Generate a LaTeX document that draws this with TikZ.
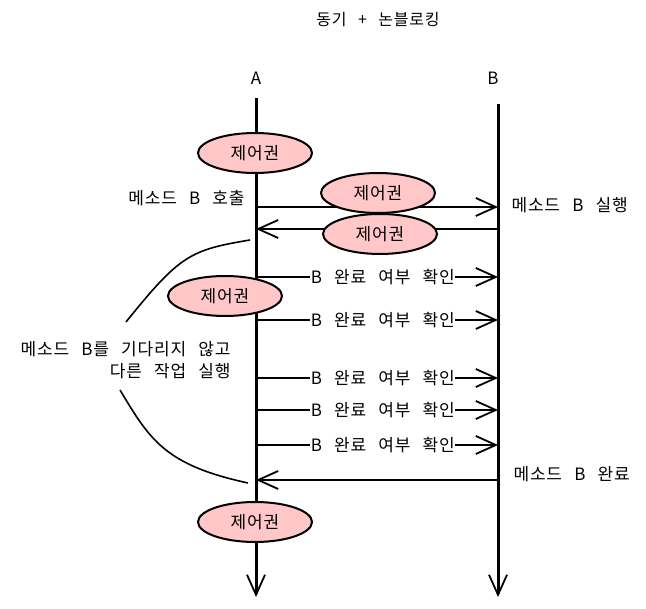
\documentclass[tikz,border=0pt]{standalone}
\usepackage{fontspec}
\setmainfont[LetterSpace=5, WordSpace=2.6]{Noto Sans CJK KR}
\usetikzlibrary{arrows.meta,positioning,shapes.geometric}

\begin{document}
\begin{tikzpicture}[
    x=1pt, y=-1pt,
    >={Straight Barb[length=20pt,width=18pt,line width=1.8pt]},
    font=\fontsize{17}{22}\selectfont,
    ctrl/.style={ellipse, draw=black, line width=2pt, fill=red!22,
                 minimum width=114pt, minimum height=40pt, inner sep=0pt},
    life/.style={->, line width=3pt},
    msg/.style={->, line width=2pt},
    lbl/.style={fill=white, inner sep=0.5pt},
    note/.style={line width=1.6pt}
  ]
    \useasboundingbox (0,0) rectangle (646,609);

    \node[font=\fontsize{16}{20}\selectfont] (title) at (378,20) {동기 + 논블로킹};
    \node (la) at (256,78) {A};
    \node (lb) at (493,78) {B};

    %--- lifelines ---
    \coordinate (a0) at (256,98);
    \coordinate (a1) at (256,597);
    \coordinate (b0) at (498,104);
    \coordinate (b1) at (498,597);
    \draw[life] (a0) -- (a1);
    \draw[life] (b0) -- (b1);

    %--- call / return ---
    \coordinate (c1) at (256,207);
    \coordinate (c2) at (498,207);
    \coordinate (r1) at (498,229);
    \coordinate (r2) at (256,229);
    \draw[msg] (c1) -- (c2);
    \draw[msg] (r1) -- (r2);

    \node[ctrl] (k0) at (255,153) {제어권};
    \node[ctrl] (k1) at (378,193) {제어권};
    \node[ctrl] (k2) at (380,234) {제어권};

    \node[anchor=east] (call) at (248,198) {메소드 B 호출};
    \node[anchor=west] (run) at (508,205) {메소드 B 실행};

    %--- polling ---
    \foreach \y [count=\i] in {277,320,378,410,445} {
        \coordinate (p\i) at (258,\y);
        \coordinate (q\i) at (498,\y);
        \draw[msg] (p\i) -- node[lbl, pos=0.52] (chk\i) {B 완료 여부 확인} (q\i);
    }

    \node[ctrl] (k3) at (225,296) {제어권};

    %--- done ---
    \coordinate (d1) at (498,480);
    \coordinate (d2) at (256,480);
    \draw[msg] (d1) -- (d2);
    \node[anchor=west] (done) at (510,474) {메소드 B 완료};

    \node[ctrl] (k4) at (255,522) {제어권};

    %--- side note ---
    \node[align=right, anchor=east] (wait) at (234,360)
        {메소드 B를 기다리지 않고\\다른 작업 실행};
    \coordinate (u0) at (250,240);
    \coordinate (u1) at (126,322);
    \coordinate (w0) at (120,390);
    \coordinate (w1) at (248,483);
    \draw[note] (u0) .. controls (190,250) and (180,255) .. (u1);
    \draw[note] (w0) .. controls (150,440) and (165,465) .. (w1);
\end{tikzpicture}
\end{document}
